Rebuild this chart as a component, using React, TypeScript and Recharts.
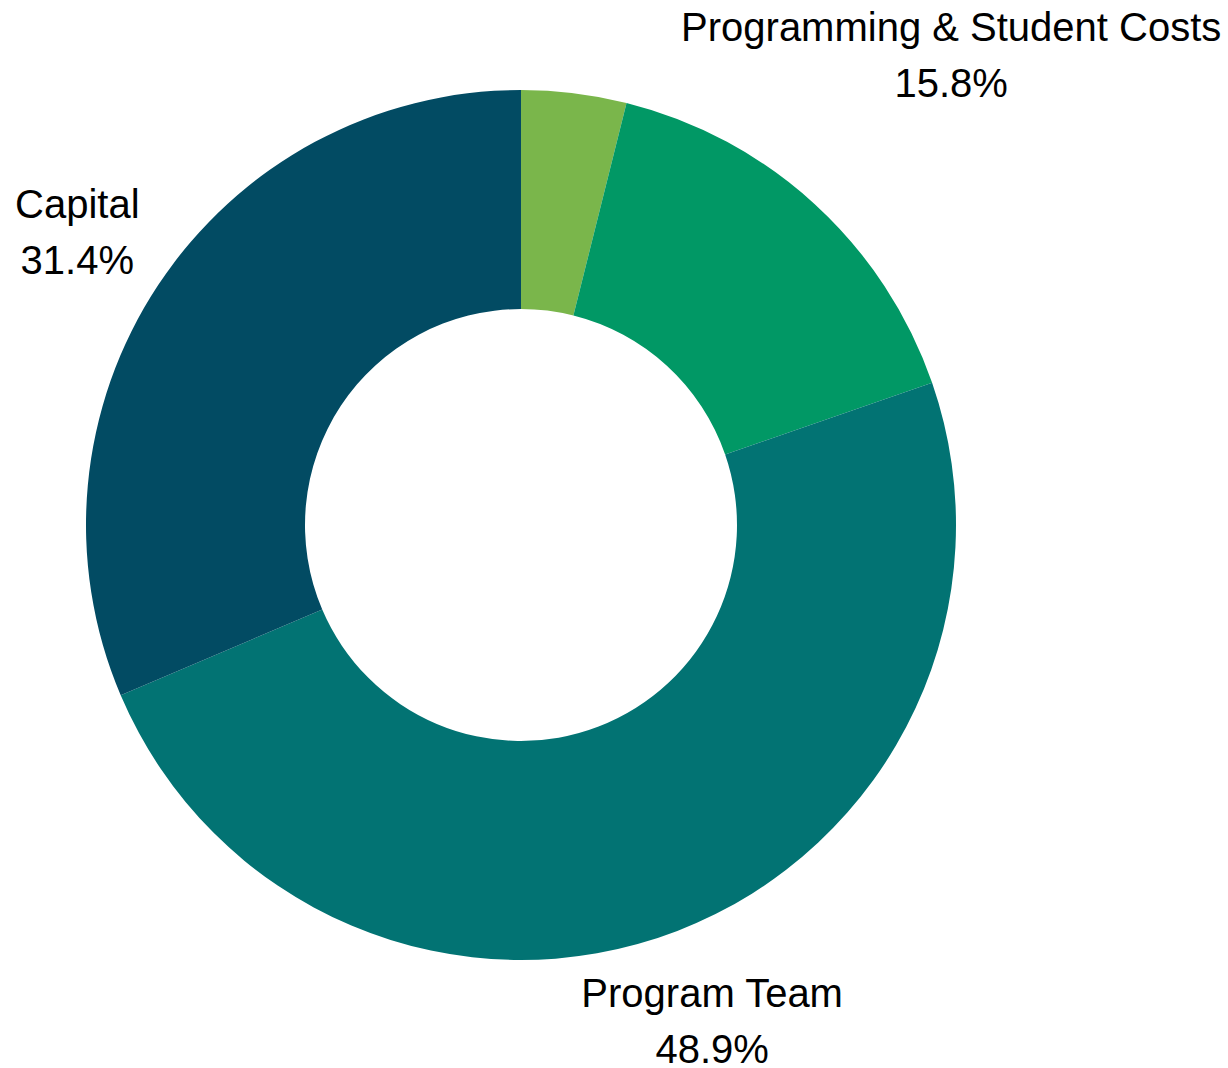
import React from 'react';
import { PieChart, Pie, Cell } from 'recharts';

const categories = ['Other', 'Programming & Student Costs', 'Program Team', 'Capital'];
const shares = [3.9, 15.8, 48.9, 31.4];
const colors = ['#7ab64b', '#019865', '#027373', '#024b63'];
// labels that are drawn; the smallest slice carries none
const labelled = ['Programming & Student Costs', 'Program Team', 'Capital'];
const labelGap: Record<string, number> = {
  'Programming & Student Costs': 202,
  'Program Team': 97,
  Capital: 97,
};

const data = categories.map((name, i) => ({ name, value: shares[i] }));

const RADIAN = Math.PI / 180;

const renderLabel = (props: any) => {
  const { cx, cy, midAngle, outerRadius, name, value } = props;
  if (!labelled.includes(name)) return null;
  const r = outerRadius + (labelGap[name] ?? 97);
  const x = cx + r * Math.cos(-midAngle * RADIAN);
  const y = cy + r * Math.sin(-midAngle * RADIAN);
  return (
    <text
      x={x}
      y={y}
      textAnchor="middle"
      fill="#000"
      fontSize={40}
      fontFamily="'Liberation Sans', Arial, sans-serif"
    >
      <tspan x={x} y={y - 14}>{name}</tspan>
      <tspan x={x} y={y + 42}>{`${value.toFixed(1)}%`}</tspan>
    </text>
  );
};

export default function App() {
  return (
    <div style={{ position: 'absolute', left: 0, top: 0, background: '#fff' }}>
      <style>{`body { margin: 0; }`}</style>
      <PieChart width={1228} height={1068} margin={{ top: 0, right: 0, bottom: 0, left: 0 }}>
        <Pie
          data={data}
          dataKey="value"
          nameKey="name"
          cx={521}
          cy={525}
          innerRadius={216}
          outerRadius={435}
          startAngle={90}
          endAngle={-270}
          stroke="none"
          label={renderLabel}
          labelLine={false}
          isAnimationActive={false}
        >
          {data.map((d, i) => (
            <Cell key={d.name} fill={colors[i]} />
          ))}
        </Pie>
      </PieChart>
    </div>
  );
}
